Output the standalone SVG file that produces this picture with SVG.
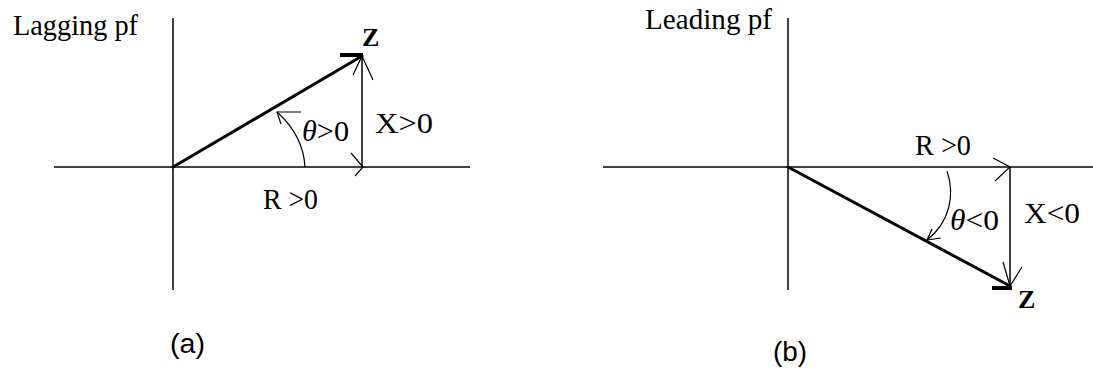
<svg xmlns="http://www.w3.org/2000/svg" width="1093" height="371" viewBox="0 0 1093 371">
<style>
.ax{stroke:#000;stroke-width:1.5;fill:none}
.vec{stroke:#000;stroke-width:3;fill:none;stroke-linecap:round}
.thin{stroke:#000;stroke-width:1.2;fill:none}
.bar{stroke:#000;stroke-width:4;fill:none}
.t{font-family:"Liberation Serif","Times New Roman",serif;font-size:30px;fill:#000}
.z{font-family:"Liberation Serif","Times New Roman",serif;font-size:26px;font-weight:bold;fill:#000}
.cap{font-family:"Liberation Sans",Arial,sans-serif;font-size:27px;fill:#000}
</style>
<rect width="1093" height="371" fill="#fff"/>
<g id="panel-a">
  <g id="axes-a">
    <line class="ax" x1="173" y1="18" x2="173" y2="290"/>
    <line class="ax" x1="54" y1="167" x2="470" y2="167"/>
  </g>
  <g id="connectors-a">
    <line class="vec" x1="173" y1="167" x2="362" y2="56"/>
    <line class="bar" x1="340" y1="55" x2="363" y2="55"/>
    <line class="ax" x1="362" y1="56" x2="362" y2="167"/>
    <polyline class="thin" points="353,75 362,56 373,80"/>
    <polyline class="thin" points="351,153 363,167 355,176"/>
    <path class="thin" d="M305,167 C304,148 297,130 277,112"/>
    <polyline class="thin" points="281,124 277,112 301,112"/>
  </g>
  <text class="t" x="13" y="35" textLength="125" lengthAdjust="spacingAndGlyphs">Lagging pf</text>
  <text class="z" x="362" y="46">Z</text>
  <text class="t" x="302" y="141" textLength="47" lengthAdjust="spacingAndGlyphs"><tspan font-style="italic">θ</tspan>&gt;0</text>
  <text class="t" x="375" y="133" textLength="58" lengthAdjust="spacingAndGlyphs">X&gt;0</text>
  <text class="t" x="263" y="209" textLength="55" lengthAdjust="spacingAndGlyphs">R &gt;0</text>
  <text class="cap" x="170" y="353" textLength="35" lengthAdjust="spacingAndGlyphs">(a)</text>
</g>
<g id="panel-b">
  <g id="axes-b">
    <line class="ax" x1="788" y1="18" x2="788" y2="290"/>
    <line class="ax" x1="603" y1="167" x2="1093" y2="167"/>
  </g>
  <g id="connectors-b">
    <line class="vec" x1="788" y1="167" x2="1010" y2="286"/>
    <line class="bar" x1="992" y1="288" x2="1012" y2="288"/>
    <line class="ax" x1="1010" y1="167" x2="1010" y2="286"/>
    <polyline class="thin" points="1003,262 1010,286 1022,267"/>
    <polyline class="thin" points="993,158 1010,167 995,181"/>
    <path class="thin" d="M947,171 C955,195 950,222 927,240"/>
    <polyline class="thin" points="932,229 927,240 941,238"/>
  </g>
  <text class="t" x="645" y="29" textLength="127" lengthAdjust="spacingAndGlyphs">Leading pf</text>
  <text class="z" x="1018" y="308">Z</text>
  <text class="t" x="915" y="155" textLength="56" lengthAdjust="spacingAndGlyphs">R &gt;0</text>
  <text class="t" x="950" y="230" textLength="49" lengthAdjust="spacingAndGlyphs"><tspan font-style="italic">θ</tspan>&lt;0</text>
  <text class="t" x="1024" y="223" textLength="56" lengthAdjust="spacingAndGlyphs">X&lt;0</text>
  <text class="cap" x="773" y="361" textLength="34" lengthAdjust="spacingAndGlyphs">(b)</text>
</g>
</svg>
